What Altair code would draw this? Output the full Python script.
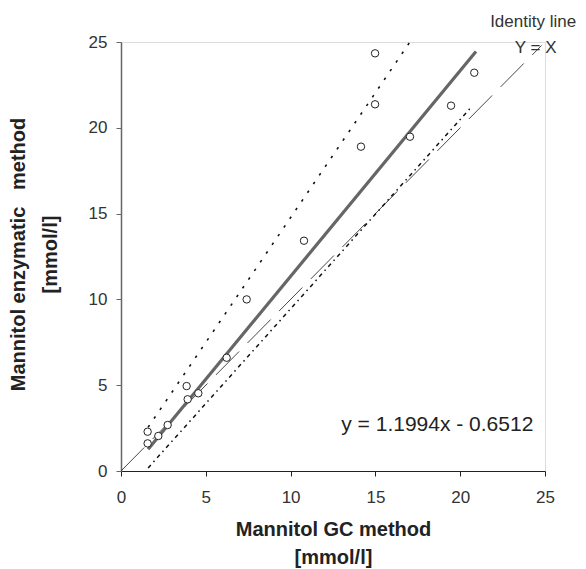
import altair as alt
import pandas as pd

# Measured data points (GC method vs enzymatic method), mmol/l
gc_vals = [1.57, 1.57, 2.20, 2.75, 3.87, 3.93, 4.56, 6.23, 7.41, 10.79, 14.15, 14.98, 14.98, 17.04, 19.46, 20.83]
enz_vals = [2.29, 1.61, 2.04, 2.68, 4.95, 4.18, 4.53, 6.60, 10.00, 13.42, 18.90, 24.34, 21.37, 19.48, 21.29, 23.21]

# Line end points
identity_x = [0.0, 24.8]
identity_y = [0.0, 24.8]
regress_x = [1.60, 20.93]
regress_y = [1.27, 24.45]
upper_x = [1.60, 17.24]
upper_y = [2.55, 25.30]
lower_x = [1.60, 20.60]
lower_y = [0.18, 21.15]

tick_vals = [0, 5, 10, 15, 20, 25]

# Annotations (data coordinates)
ann_text = ["Identity line", "Y = X"]
ann_x = [24.3, 24.45]
ann_y = [26.15, 24.65]
eq_text = ["y = 1.1994x - 0.6512"]
eq_x = [18.65]
eq_y = [2.68]

FONT = "Liberation Sans"

pts = pd.DataFrame({"x": gc_vals, "y": enz_vals})
ident = pd.DataFrame({"x": identity_x, "y": identity_y})
reg = pd.DataFrame({"x": regress_x, "y": regress_y})
up = pd.DataFrame({"x": upper_x, "y": upper_y})
lo = pd.DataFrame({"x": lower_x, "y": lower_y})
ann = pd.DataFrame({"x": ann_x, "y": ann_y, "t": ann_text})
eq = pd.DataFrame({"x": eq_x, "y": eq_y, "t": eq_text})

xscale = alt.Scale(domain=[0, 25], nice=False, zero=False)
yscale = alt.Scale(domain=[0, 25], nice=False, zero=False)

x_axis = alt.Axis(
    values=tick_vals, grid=False, title=["Mannitol GC method", "[mmol/l]"],
    domainColor="#222", domainWidth=1, tickColor="#222", tickSize=5, tickWidth=1,
    labelFont=FONT, labelFontSize=17, labelColor="#333", labelPadding=13, labelFlush=False,
    titleFont=FONT, titleFontSize=20, titleFontWeight="bold", titleColor="#222",
    titleY=58, titleBaseline="middle", titleLineHeight=28,
)
y_axis = alt.Axis(
    values=tick_vals, grid=False,
    title=["Mannitol enzymatic\u00a0\u00a0\u00a0method", "[mmol/l]"],
    domainColor="#666", domainWidth=1.5, tickColor="#666", tickSize=5, tickWidth=1,
    labelFont=FONT, labelFontSize=17, labelColor="#333", labelPadding=9, labelFlush=False,
    titleFont=FONT, titleFontSize=20, titleFontWeight="bold", titleColor="#222",
    titleAngle=270, titleX=-103, titleY=212, titleBaseline="middle", titleAlign="center",
    titleLineHeight=32,
)

X = alt.X("x:Q", scale=xscale, axis=x_axis)
Y = alt.Y("y:Q", scale=yscale, axis=y_axis)

identity = alt.Chart(ident).mark_line(color="#333", strokeWidth=0.9, strokeDash=[33, 12]).encode(x=X, y=Y)
regline = alt.Chart(reg).mark_line(color="#666", strokeWidth=3.2).encode(x=X, y=Y)
upper = alt.Chart(up).mark_line(color="#111", strokeWidth=1.6, strokeDash=[2.5, 8]).encode(x=X, y=Y)
lower = alt.Chart(lo).mark_line(color="#111", strokeWidth=1.5, strokeDash=[4, 4, 1.5, 4]).encode(x=X, y=Y)
points = alt.Chart(pts).mark_point(shape="circle", size=55, filled=False, fill="white",
                                   fillOpacity=1, stroke="#222", strokeWidth=1, opacity=1).encode(x=X, y=Y)
ann_layer = alt.Chart(ann).mark_text(font=FONT, fontSize=17, color="#333", align="center",
                                     baseline="middle").encode(x=X, y=Y, text="t:N")
eq_layer = alt.Chart(eq).mark_text(font=FONT, fontSize=21, color="#222", align="center",
                                   baseline="middle").encode(x=X, y=Y, text="t:N")

chart = alt.layer(identity, regline, upper, lower, points, ann_layer, eq_layer).properties(
    width=424, height=429,
    autosize=alt.AutoSizeParams(type="none"),
    padding={"left": 113, "top": 34, "right": 33, "bottom": 98},
).configure_view(strokeWidth=0).configure(background="white")

chart.save("out.html", embed_options={"renderer": "svg", "actions": False})
